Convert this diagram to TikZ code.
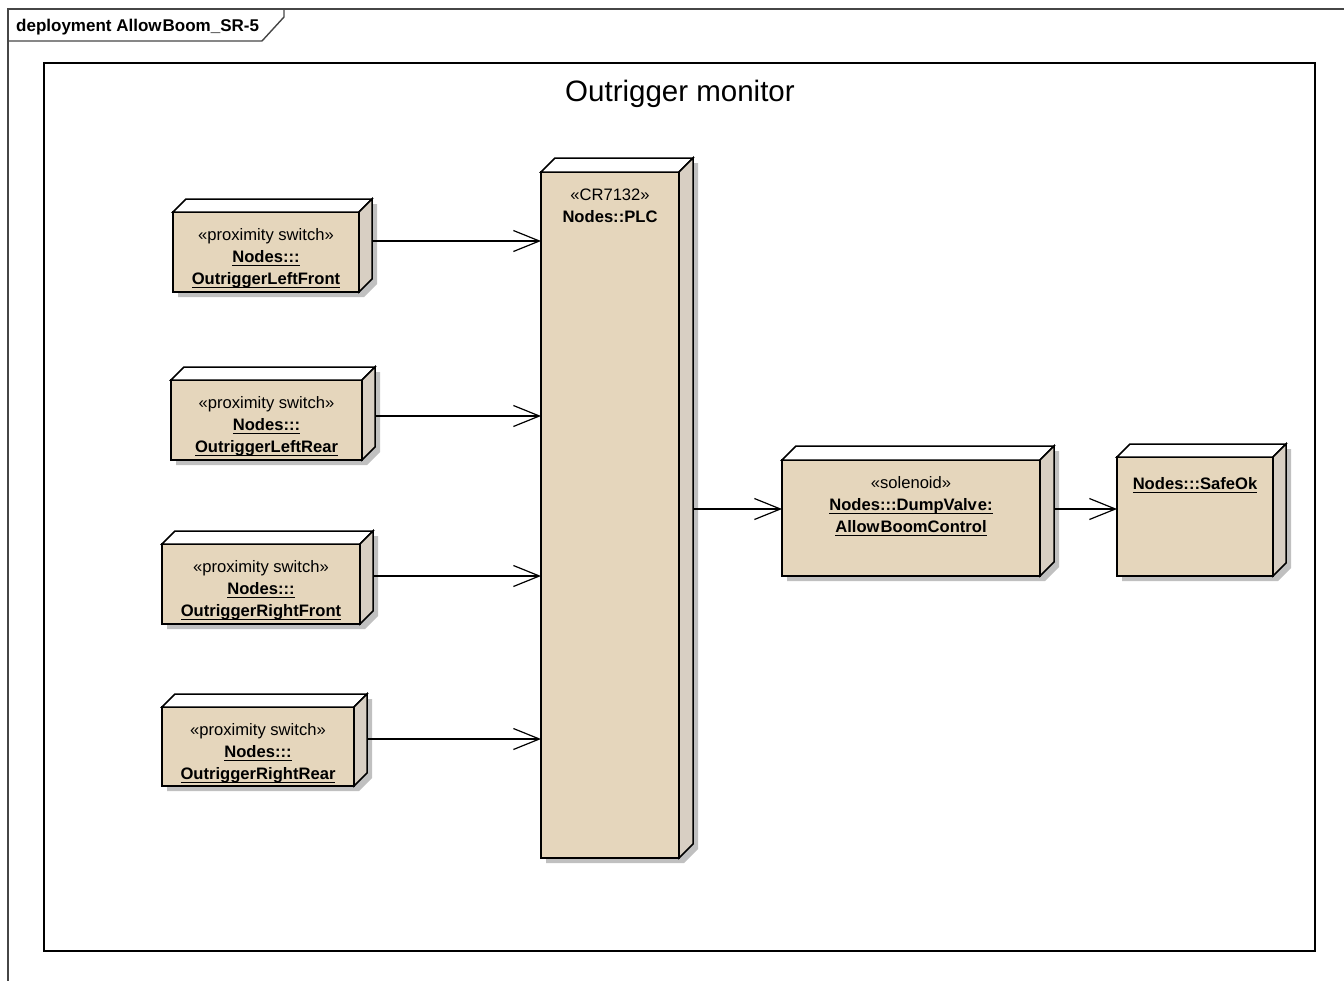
\documentclass[tikz,border=0pt]{standalone}
\usepackage{fontspec}
\setmainfont{Liberation Sans}
\usetikzlibrary{calc,arrows.meta}

\definecolor{facec}{RGB}{229,214,188}
\definecolor{sidec}{RGB}{216,207,195}
\definecolor{shadc}{RGB}{192,192,192}
\definecolor{framec}{RGB}{70,70,70}

% underlined element name with a fixed underline depth
\newsavebox\ulnamebox
\newcommand\ulname[1]{\sbox\ulnamebox{#1}\rlap{\rule[-3.6pt]{\wd\ulnamebox}{1.1pt}}\usebox\ulnamebox}

% 3D deployment node: shadow, front face, top and side faces
% #1 node name, #2 depth
\newcommand\solidbox[2]{%
  \fill[shadc] ([shift={(5,5)}]#1.south west) -- ([shift={(5,5)}]#1.north west)
    -- ([shift={(5+#2,5-#2)}]#1.north west) -- ([shift={(5+#2,5-#2)}]#1.north east)
    -- ([shift={(5+#2,5-#2)}]#1.south east) -- ([shift={(5,5)}]#1.south east) -- cycle;
  \draw[boxline, fill=facec] (#1.south west) rectangle (#1.north east);
  \draw[boxline, fill=white] (#1.north west) -- ([shift={(#2,-#2)}]#1.north west)
    -- ([shift={(#2,-#2)}]#1.north east) -- (#1.north east) -- cycle;
  \draw[boxline, fill=sidec] (#1.north east) -- ([shift={(#2,-#2)}]#1.north east)
    -- ([shift={(#2,-#2)}]#1.south east) -- (#1.south east) -- cycle;
}

\tikzset{
  boxline/.style={line width=1.5pt, black, line join=miter},
  nodebox/.style={inner sep=0pt, outer sep=0pt, minimum width=#1},
  nodetext/.style={anchor=north, inner sep=0pt, align=center,
    font=\fontsize{16.6}{21.8}\selectfont},
  dep/.style={line width=1.2pt, -{Straight Barb[length=26pt, width=21pt, line width=1.2pt]}},
  framel/.style={line width=1.4pt, framec},
}

\begin{document}
\begin{tikzpicture}[x=1pt, y=-1pt]
\useasboundingbox (0,0) rectangle (1344,980);
\clip (0,0) rectangle (1344,980);

% diagram frame and its name tab
\draw[framel] (8,990) -- (8,9) -- (1350,9);
\draw[framel] (8,41) -- (262,41) -- (284,17) -- (284,9);
\node[anchor=base west, inner sep=0pt, font=\bfseries\fontsize{17}{19}\selectfont]
  (hdr) at (16,31) {deployment Allow\kern1pt Boom\_SR-5};

% enclosing boundary
\draw[line width=1.5pt, black] (44,63) rectangle (1315,951);
\node[anchor=base, inner sep=0pt, font=\fontsize{29.5}{32}\selectfont]
  (title) at (680,101) {Outrigger monitor};

% node bodies (front faces)
\node[nodebox=186pt, minimum height=80pt] (lf) at (266,252) {};
\node[nodebox=191pt, minimum height=80pt] (lr) at (266.5,420) {};
\node[nodebox=198pt, minimum height=80pt] (rf) at (261,584) {};
\node[nodebox=192pt, minimum height=79pt] (rr) at (258,746.5) {};
\node[nodebox=138pt, minimum height=686pt] (plc) at (610,515) {};
\node[nodebox=258pt, minimum height=116pt] (sol) at (911,518) {};
\node[nodebox=156pt, minimum height=119pt] (safe) at (1195,516.5) {};

\solidbox{lf}{13}
\solidbox{lr}{13}
\solidbox{rf}{13}
\solidbox{rr}{13}
\solidbox{plc}{14}
\solidbox{sol}{14}
\solidbox{safe}{13}

% node labels
\node[nodetext] (lf-t) at ($(lf.north)+(0,16.5)$)
  {«proximity switch»\\ \bfseries\ulname{Nodes:::}\\ \bfseries\ulname{OutriggerLeftFront}};
\node[nodetext] (lr-t) at ($(lr.north)+(0,16.5)$)
  {«proximity switch»\\ \bfseries\ulname{Nodes:::}\\ \bfseries\ulname{OutriggerLeftRear}};
\node[nodetext] (rf-t) at ($(rf.north)+(0,16.5)$)
  {«proximity switch»\\ \bfseries\ulname{Nodes:::}\\ \bfseries\ulname{OutriggerRightFront}};
\node[nodetext] (rr-t) at ($(rr.north)+(0,16.5)$)
  {«proximity switch»\\ \bfseries\ulname{Nodes:::}\\ \bfseries\ulname{OutriggerRightRear}};
\node[nodetext] (plc-t) at ($(plc.north)+(0,16.5)$)
  {«CR7132»\\ \bfseries Nodes::PLC};
\node[nodetext] (sol-t) at ($(sol.north)+(0,16.5)$)
  {«solenoid»\\ \bfseries\ulname{Nodes:::DumpValv\kern1pt e:}\\ \bfseries\ulname{Allow\kern1pt BoomControl}};
\node[nodetext] (safe-t) at ($(safe.north)+(0,20)$)
  {\bfseries\ulname{Nodes:::SafeOk}};

% dependencies
\draw[dep] ($(lf.east)+(13,-11)$) coordinate (lf-o) -- (lf-o -| plc.west);
\draw[dep] ($(lr.east)+(13,-4)$) coordinate (lr-o) -- (lr-o -| plc.west);
\draw[dep] ($(rf.east)+(13,-8)$) coordinate (rf-o) -- (rf-o -| plc.west);
\draw[dep] ($(rr.east)+(13,-7.5)$) coordinate (rr-o) -- (rr-o -| plc.west);
\draw[dep] ($(plc.east)+(14,-6)$) coordinate (plc-o) -- (plc-o -| sol.west);
\draw[dep] ($(sol.east)+(14,-9)$) coordinate (sol-o) -- (sol-o -| safe.west);
\end{tikzpicture}
\end{document}
